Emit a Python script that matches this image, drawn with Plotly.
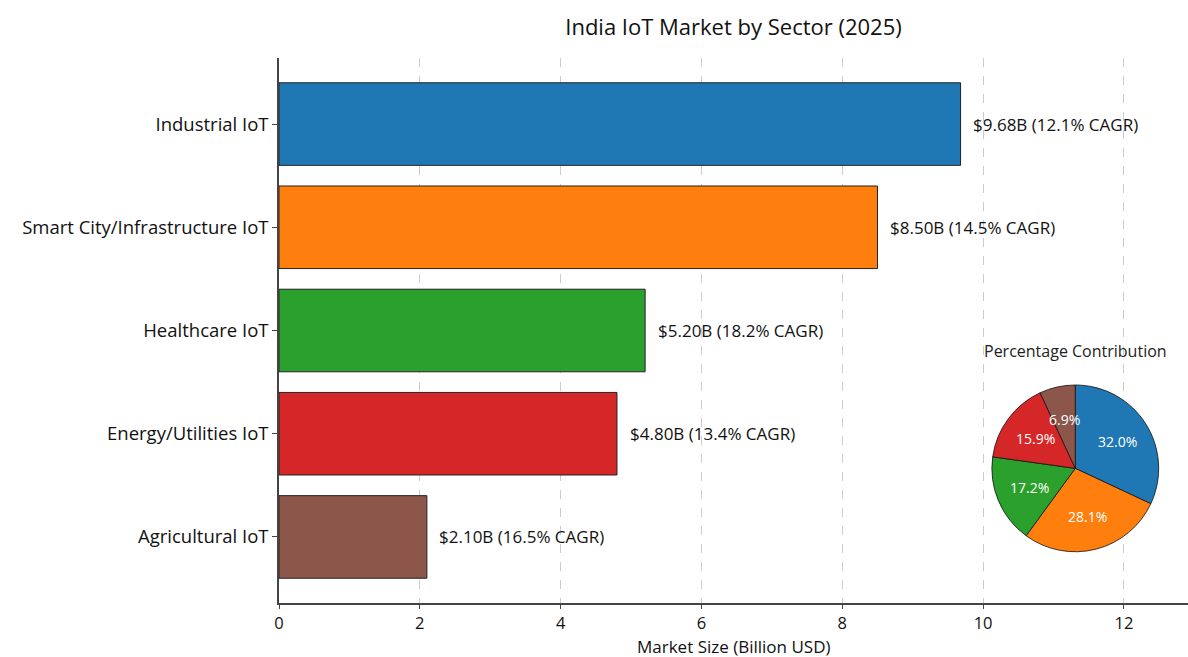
import math
import plotly.graph_objects as go

sectors = ["Agricultural IoT", "Energy/Utilities IoT", "Healthcare IoT",
           "Smart City/Infrastructure IoT", "Industrial IoT"]
market_size = [2.10, 4.80, 5.20, 8.50, 9.68]
cagr = [16.5, 13.4, 18.2, 14.5, 12.1]
colors = ["#8c564b", "#d62728", "#2ca02c", "#ff7f0e", "#1f77b4"]

# pie order (clockwise from top)
pie_labels = ["Industrial IoT", "Smart City/Infrastructure IoT", "Healthcare IoT",
              "Energy/Utilities IoT", "Agricultural IoT"]
pie_values = [9.68, 8.50, 5.20, 4.80, 2.10]
pie_colors = ["#1f77b4", "#ff7f0e", "#2ca02c", "#d62728", "#8c564b"]

FONT = "Open Sans"
W, H = 1188, 657
ML, MR, MT, MB = 279, 0, 58, 54
PW, PH = W - ML - MR, H - MT - MB
PIE_DOM_X = [0.782, 0.970]
PIE_DOM_Y = [0.094, 0.400]

fig = go.Figure()
fig.add_trace(go.Bar(
    y=sectors, x=market_size, orientation="h", width=0.8,
    marker=dict(color=colors, line=dict(color="#222222", width=1)),
    showlegend=False, hoverinfo="skip",
))

for s, v, c in zip(sectors, market_size, cagr):
    fig.add_annotation(x=v + 0.15, y=s, text=f"${v:.2f}B ({c:.1f}% CAGR)",
                       xanchor="left", yanchor="middle", showarrow=False,
                       font=dict(family=FONT, size=17, color="#111111"))

fig.add_trace(go.Pie(
    labels=pie_labels, values=pie_values, sort=False, direction="clockwise",
    rotation=0, marker=dict(colors=pie_colors, line=dict(color="#111111", width=0.8)),
    textinfo="none",
    domain=dict(x=PIE_DOM_X, y=PIE_DOM_Y),
    showlegend=False, hoverinfo="skip",
))

# percentage labels placed at 0.6 of the radius (matplotlib style)
cx_px = ML + PW * (PIE_DOM_X[0] + PIE_DOM_X[1]) / 2
cy_px = MT + PH * (1 - (PIE_DOM_Y[0] + PIE_DOM_Y[1]) / 2)
r_px = min(PW * (PIE_DOM_X[1] - PIE_DOM_X[0]), PH * (PIE_DOM_Y[1] - PIE_DOM_Y[0])) / 2
total = sum(pie_values)
cum = 0.0
for v in pie_values:
    mid = (cum + v / 2) / total
    cum += v
    ang = 2 * math.pi * mid  # clockwise from 12 o'clock
    px = cx_px + 0.6 * r_px * math.sin(ang)
    py = cy_px - 0.6 * r_px * math.cos(ang)
    fig.add_annotation(xref="paper", yref="paper",
                       x=(px - ML) / PW, y=1 - (py - MT) / PH,
                       text=f"{100 * v / total:.1f}%", showarrow=False,
                       xanchor="center", yanchor="middle",
                       font=dict(family=FONT, size=14, color="white"))

fig.add_annotation(xref="paper", yref="paper", x=0.876, y=0.462,
                   text="Percentage Contribution", showarrow=False,
                   xanchor="center", yanchor="middle",
                   font=dict(family=FONT, size=16, color="#222222"))

# x-axis title
fig.add_annotation(xref="paper", yref="paper", x=0.5, y=-(646 - (H - MB)) / PH,
                   text="Market Size (Billion USD)", showarrow=False,
                   xanchor="center", yanchor="middle", borderpad=0,
                   font=dict(family=FONT, size=17, color="#111111"))

fig.update_layout(
    width=W, height=H,
    margin=dict(l=ML, r=MR, t=MT, b=MB),
    paper_bgcolor="white", plot_bgcolor="white",
    font=dict(family=FONT, color="#111111"),
    title=dict(text="India IoT Market by Sector (2025)", x=0.5, xref="paper",
               y=0.958, yanchor="middle",
               font=dict(family=FONT, size=22, color="#111111")),
    xaxis=dict(range=[0, 12.91], tickvals=[0, 2, 4, 6, 8, 10, 12],
               showgrid=True, gridcolor="#cccccc", griddash="dash", gridwidth=1,
               zeroline=False, showline=True, linecolor="#444444", linewidth=1.5,
               ticks="outside", ticklen=4, tickcolor="#444444",
               tickfont=dict(family=FONT, size=16.5, color="#111111")),
    yaxis=dict(range=[-0.64, 4.64], showgrid=False, zeroline=False,
               showline=True, linecolor="#444444", linewidth=1.5,
               ticks="outside", ticklen=5, tickcolor="#444444",
               tickfont=dict(family=FONT, size=18.5, color="#111111")),
)

fig.write_html("out.html")
